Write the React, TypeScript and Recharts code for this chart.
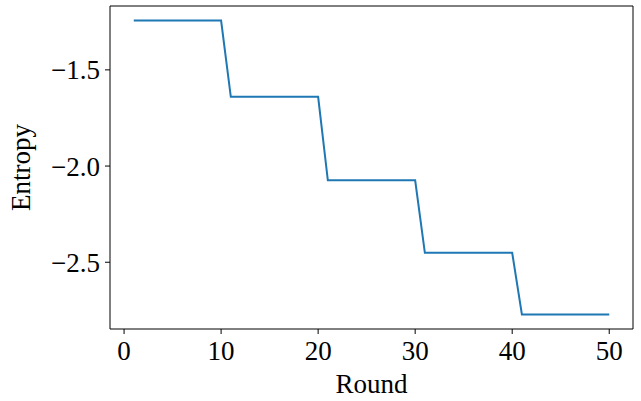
import { LineChart, Line, XAxis, YAxis } from "recharts";

// rounds 1..50 and the entropy
const rounds = [
  1, 2, 3, 4, 5, 6, 7, 8, 9, 10,
  11, 12, 13, 14, 15, 16, 17, 18, 19, 20,
  21, 22, 23, 24, 25, 26, 27, 28, 29, 30,
  31, 32, 33, 34, 35, 36, 37, 38, 39, 40,
  41, 42, 43, 44, 45, 46, 47, 48, 49, 50,
];
const entropy = [
  -1.244, -1.244, -1.244, -1.244, -1.244, -1.244, -1.244, -1.244, -1.244, -1.244,
  -1.64, -1.64, -1.64, -1.64, -1.64, -1.64, -1.64, -1.64, -1.64, -1.64,
  -2.074, -2.074, -2.074, -2.074, -2.074, -2.074, -2.074, -2.074, -2.074, -2.074,
  -2.451, -2.451, -2.451, -2.451, -2.451, -2.451, -2.451, -2.451, -2.451, -2.451,
  -2.771, -2.771, -2.771, -2.771, -2.771, -2.771, -2.771, -2.771, -2.771, -2.771,
];
const xTicks = [0, 10, 20, 30, 40, 50];
const yTicks = [-2.5, -2.0, -1.5];

const data = rounds.map((r, i) => ({ round: r, entropy: entropy[i] }));

const FONT = "'Liberation Serif', 'DejaVu Serif', serif";
const FS = 27;
const fmtY = (v: number) => v.toFixed(1).replace("-", "\u2212");

export default function App() {
  return (
    <div style={{ position: "absolute", left: 0, top: 0, background: "#fff" }}>
      <LineChart
        width={641}
        height={401}
        data={data}
        margin={{ top: 5, right: 7, left: 0, bottom: 0 }}
        style={{ fontFamily: FONT, fontSize: FS }}
      >
        <XAxis
          dataKey="round"
          type="number"
          domain={[-1.45, 52.45]}
          ticks={xTicks}
          height={72}
          tickSize={5}
          tickMargin={7}
          stroke="#000"
          fontSize={FS}
          tick={{ fill: "#000", fontSize: FS }}
          label={{ value: "Round", position: "insideBottom", offset: 8, fill: "#000", fontSize: FS }}
        />
        <XAxis xAxisId="top" orientation="top" height={1} tick={false} stroke="#000" />
        <YAxis
          type="number"
          domain={[-2.847, -1.168]}
          ticks={yTicks}
          width={110}
          tickSize={5}
          tickMargin={5}
          tickFormatter={fmtY}
          stroke="#000"
          fontSize={FS}
          tick={{ fill: "#000", fontSize: FS }}
          label={{
            value: "Entropy",
            angle: -90,
            position: "insideLeft",
            offset: 20,
            fill: "#000",
            fontSize: FS,
            style: { textAnchor: "middle" },
          }}
        />
        <YAxis yAxisId="right" orientation="right" width={1} tick={false} stroke="#000" />
        <Line
          dataKey="entropy"
          stroke="#1f77b4"
          strokeWidth={2}
          dot={false}
          isAnimationActive={false}
        />
      </LineChart>
    </div>
  );
}
